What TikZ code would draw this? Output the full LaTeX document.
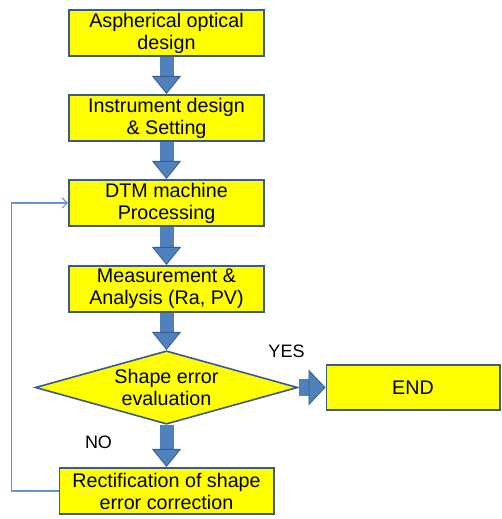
\documentclass[tikz,border=0pt]{standalone}
\usepackage{fontspec}
\setmainfont{Liberation Sans}
\usepackage{xcolor}
\usepackage{tikz}
\usetikzlibrary{positioning, shapes.geometric, arrows.meta}
\definecolor{boxyellow}{RGB}{255,255,0}
\definecolor{boxedge}{RGB}{58,90,140}
\definecolor{arrowfill}{RGB}{79,129,189}
\definecolor{arrowedge}{RGB}{56,93,138}
\definecolor{loopblue}{RGB}{100,150,215}
\tikzset{
	process/.style = {draw=boxedge, fill=boxyellow, line width=1.6pt, minimum width=195.4pt, minimum height=46.4pt, inner sep=1pt, align=center, font=\fontsize{19.7}{22}\selectfont},
	decision/.style = {diamond, draw=boxedge, fill=boxyellow, line width=1.6pt, aspect=3.5, minimum width=262.4pt, minimum height=73.4pt, inner sep=0pt, align=center, font=\fontsize{19.7}{22}\selectfont},
	tag/.style = {inner sep=0pt, font=\fontsize{18}{20}\selectfont},
	blockdown/.style = {line width=14pt, arrowfill, -{Triangle[width=29pt, length=18pt, line width=0.8pt, color=arrowedge, fill=arrowfill]}},
	blockright/.style = {line width=17pt, arrowfill, -{Triangle[width=36pt, length=17pt, line width=0.8pt, color=arrowedge, fill=arrowfill]}},
	feedback/.style = {draw=loopblue, line width=1.2pt, -{Straight Barb[length=5pt, width=10pt]}}
}
\begin{document}
\begin{tikzpicture}[x=1pt, y=1pt]
	\useasboundingbox (0,0) rectangle (501,519);
	
	\node [process] (design) at (166.5,486) {Aspherical optical\\design};
	\node [process] [below=37pt of design] (setting) {Instrument design\\\& Setting};
	\node [process] [below=37pt of setting] (dtm) {DTM machine\\Processing};
	\node [process] [below=38pt of dtm] (measure) {Measurement \&\\Analysis (Ra, PV)};
	\node [decision] [below=37pt of measure] (eval) {Shape error\\evaluation};
	\node [process, minimum width=214.4pt] [below=42pt of eval] (rectify) {Rectification of shape\\error correction};
	\node [process, minimum width=173.4pt, minimum height=45.4pt] [right=27pt of eval] (end) {END};
	
	\node [tag] (yes) at ([shift={(-12pt,36pt)}]eval.east) {YES};
	\node [tag] (no) at ([shift={(-68pt,-17pt)}]eval.south) {NO};
	
	\draw [blockdown] (design) -- (setting);
	\draw [blockdown] (setting) -- (dtm);
	\draw [blockdown] (dtm) -- (measure);
	\draw [blockdown] (measure) -- (eval);
	\draw [blockdown] (eval) -- (rectify);
	\draw [blockright] (eval) -- (end);
	
	\coordinate [left=47pt of rectify.west] (loop);
	\draw [feedback] (rectify.west) -- (loop) |- (dtm.west);
\end{tikzpicture}
\end{document}
